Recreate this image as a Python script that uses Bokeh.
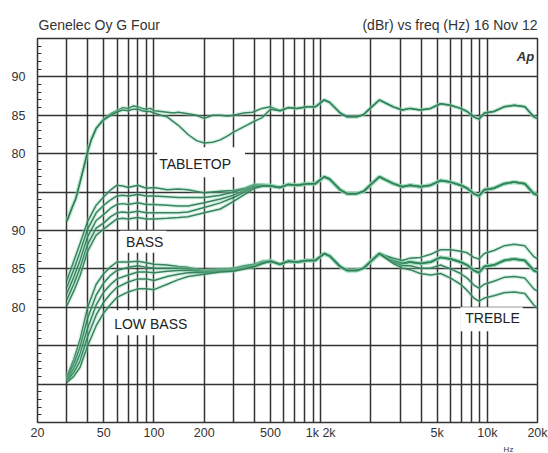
from bokeh.plotting import figure
from bokeh.layouts import column
from bokeh.models import Range1d, FixedTicker, Label
from bokeh.core.properties import value
from bokeh.embed import file_html
from bokeh.resources import INLINE

# ---------------- axes / grid ----------------
x_grid_hz = [30, 40, 50, 60, 70, 80, 90, 100, 200, 300, 400, 500, 600, 700, 800, 900,
             1000, 2000, 3000, 4000, 5000, 6000, 7000, 8000, 9000, 10000]
y_grid_db = [50, 55, 60, 65, 70, 75, 80, 85, 90]
x_tick_hz = [20, 50, 100, 200, 500, 1000, 5000, 10000, 20000]
x_tick_labels = ["20", "50", "100", "200", "500", "1k 2k", "5k", "10k", "20k"]
y_tick_db = [60, 65, 70, 80, 85, 90]
y_tick_labels = ["80", "85", "90", "80", "85", "90"]
y_minor_db = list(range(46, 95))

header_left = "Genelec Oy G Four"
header_right = "(dBr) vs freq (Hz) 16 Nov 12"
footer_text = "Hz"

# display offsets of the three stacked groups (dB)
group_offset_db = [0, -10, -20]

# ---------------- shared response above 500 Hz (top group) ----------------
hf_freq = [570, 640, 720, 830, 930, 1050, 1130, 1310, 1440, 1650, 1810, 1980, 2250, 2450,
           2730, 3090, 3440, 3960, 4570, 5240, 6020, 6910, 7570, 8300, 8900, 9600, 10950,
           12600, 14500, 16800, 19000, 20000]
hf_db = [85.6, 86.0, 85.9, 86.1, 86.1, 87.0, 86.7, 85.3, 84.8, 84.8, 85.1, 85.9, 87.0, 86.6,
         86.1, 85.7, 85.9, 85.7, 85.9, 86.5, 86.3, 85.9, 85.5, 84.8, 84.5, 85.3, 85.5,
         86.1, 86.3, 86.1, 84.8, 84.6]

# ---------------- TABLETOP group, low frequencies ----------------
top_lf_freq = [30, 32, 34, 36, 38, 40, 42, 45, 48, 50, 55, 60, 65, 70, 75, 80, 85, 90, 95,
               100, 110, 120, 130, 140, 160, 180, 200, 225, 250, 275, 300, 345, 390, 445, 500]
top_flat_lf = [71.2, 72.8, 74.2, 76.3, 78.3, 80.3, 81.8, 83.3, 84.1, 84.5, 85.2, 85.6, 86.0,
               85.9, 86.2, 86.1, 85.9, 85.8, 85.9, 85.6, 85.5, 85.4, 85.3, 85.4, 85.2, 85.0,
               84.6, 85.0, 85.0, 84.9, 85.0, 85.3, 85.4, 85.9, 86.1]
tabletop_lf = [71.2, 72.8, 74.2, 76.3, 78.3, 80.3, 81.8, 83.3, 84.0, 84.4, 85.0, 85.4, 85.7,
               85.6, 85.8, 85.8, 85.6, 85.5, 85.5, 85.3, 85.0, 84.8, 84.2, 83.7, 82.5, 81.7,
               81.4, 81.5, 81.8, 82.3, 82.8, 83.5, 84.1, 84.7, 85.8]

# ---------------- BASS group (display dB) ----------------
bass_freq = [30, 33, 36, 40, 45, 50, 55, 60, 65, 70, 80, 90, 100, 120, 140, 160,
             200, 250, 300, 350, 400, 450, 500]
bass_0 = [63.5, 66.0, 68.3, 71.2, 73.3, 74.4, 75.3, 75.9, 75.8, 75.6, 75.9, 75.5, 75.6, 75.3,
          75.4, 75.3, 74.9, 75.1, 75.2, 75.5, 76.0, 76.0, 75.9]
bass_1 = [62.6, 64.9, 67.2, 70.2, 72.3, 73.3, 74.0, 74.5, 74.6, 74.5, 74.7, 74.5, 74.5, 74.4,
          74.3, 74.3, 74.3, 74.6, 75.0, 75.4, 75.9, 75.9, 75.9]
bass_2 = [61.8, 63.9, 66.1, 69.2, 71.3, 72.1, 72.9, 73.4, 73.5, 73.4, 73.6, 73.4, 73.4, 73.3,
          73.2, 73.2, 73.6, 74.1, 74.6, 75.2, 75.8, 75.9, 75.8]
bass_3 = [61.0, 63.0, 65.1, 68.2, 70.3, 71.0, 71.8, 72.3, 72.4, 72.3, 72.5, 72.3, 72.3, 72.3,
          72.3, 72.4, 73.0, 73.6, 74.3, 75.0, 75.7, 75.8, 75.8]
bass_4 = [60.2, 62.1, 64.1, 67.3, 69.4, 70.2, 70.9, 71.5, 71.6, 71.5, 71.7, 71.5, 71.5, 71.6,
          71.7, 71.8, 72.3, 72.8, 73.8, 74.7, 75.5, 75.8, 75.8]

# ---------------- LOW BASS group (display dB) ----------------
lb_freq = [30, 33, 36, 40, 45, 50, 55, 60, 70, 80, 90, 100, 120, 140, 160,
           200, 250, 300, 350, 400, 450, 500]
low_bass_0 = [51.0, 53.2, 55.8, 60.0, 63.0, 64.4, 65.3, 65.9, 65.9, 66.0, 65.8, 65.6, 65.5,
              65.3, 65.2, 64.8, 65.0, 65.0, 65.3, 65.5, 65.9, 66.1]
low_bass_1 = [50.8, 52.6, 54.8, 58.6, 61.6, 63.2, 64.2, 64.8, 65.2, 65.4, 65.2, 65.1, 65.1,
              65.1, 65.0, 64.7, 64.9, 65.1, 65.4, 65.6, 66.0, 66.1]
low_bass_2 = [50.6, 52.0, 53.9, 57.3, 60.3, 62.0, 63.0, 63.7, 64.2, 64.6, 64.6, 64.5, 64.7,
              64.8, 64.8, 64.6, 64.8, 64.9, 65.2, 65.4, 65.8, 66.0]
low_bass_3 = [50.4, 51.5, 53.0, 56.2, 59.0, 60.7, 61.8, 62.6, 63.3, 63.7, 63.7, 63.5, 64.0,
              64.3, 64.5, 64.5, 64.7, 64.8, 65.1, 65.3, 65.8, 66.0]
low_bass_4 = [50.2, 51.0, 52.2, 55.0, 57.6, 59.3, 60.4, 61.3, 62.0, 62.4, 62.4, 62.3, 63.0,
              63.6, 64.0, 64.3, 64.6, 64.7, 65.0, 65.3, 65.7, 66.0]

# ---------------- TREBLE curves (display dB) ----------------
treble_freq = [1980, 2250, 2450, 2730, 3090, 3440, 3960, 4570, 5240, 6020, 6910, 7570, 8300,
               8900, 9600, 10950, 12600, 14500, 16800, 19000, 20000]
treble_up2 = [65.9, 67.0, 66.7, 66.4, 66.1, 66.4, 66.5, 66.9, 67.5, 67.5, 67.3, 67.1, 66.5,
              66.3, 67.0, 67.4, 68.0, 68.2, 68.0, 66.6, 66.3]
treble_dn2 = [65.9, 67.0, 66.5, 65.9, 65.4, 65.4, 65.1, 65.1, 65.5, 65.0, 64.4, 63.8, 62.9,
              62.5, 63.0, 63.4, 63.9, 64.0, 63.8, 62.4, 62.1]
treble_dn4 = [65.9, 67.0, 66.4, 65.7, 65.1, 64.9, 64.4, 64.2, 64.4, 63.8, 63.0, 62.2, 61.2,
              60.8, 61.2, 61.5, 61.9, 62.0, 61.8, 60.3, 59.9]

FONT = "Liberation Sans"
TEXT = "#333333"
W = 548
LEFT, RIGHT = 37, 11


def strip(h):
    # same side borders as the main plot, x range in page pixels of that frame
    f = figure(width=W, height=h, x_range=Range1d(LEFT, W - RIGHT), y_range=Range1d(0, h),
               x_axis_location=None, y_axis_location=None,
               output_backend="svg", toolbar_location=None,
               min_border_left=LEFT, min_border_right=RIGHT, min_border_top=0,
               min_border_bottom=0)
    f.grid.visible = False
    f.outline_line_color = None
    f.background_fill_color = None
    return f


# ---------------- header strip ----------------
head = strip(36)
head.text(x=[38], y=[12], text=[header_left], text_font=value(FONT),
          text_font_size=value("14px"), text_color=TEXT, text_align="left",
          text_baseline="alphabetic")
head.text(x=[537], y=[12], text=[header_right], text_font=value(FONT),
          text_font_size=value("14px"), text_color=TEXT, text_align="right",
          text_baseline="alphabetic")

# ---------------- main plot ----------------
p = figure(width=W, height=406, x_axis_type="log",
           x_range=Range1d(20, 20000), y_range=Range1d(45, 95),
           output_backend="svg", toolbar_location=None,
           min_border_left=LEFT, min_border_right=RIGHT, min_border_top=2,
           min_border_bottom=17)
p.background_fill_color = "white"
p.border_fill_color = "white"
p.outline_line_color = "#333333"
p.outline_line_width = 1.5

GRID = "#333333"
p.xgrid.ticker = FixedTicker(ticks=x_grid_hz)
p.ygrid.ticker = FixedTicker(ticks=y_grid_db)
for g in (p.xgrid, p.ygrid):
    g.grid_line_color = GRID
    g.grid_line_width = 1.5
    g.minor_grid_line_color = None

p.xaxis.ticker = FixedTicker(ticks=x_tick_hz)
p.xaxis.major_label_overrides = {t: l for t, l in zip(x_tick_hz, x_tick_labels)}
p.yaxis.ticker = FixedTicker(ticks=y_tick_db, minor_ticks=y_minor_db)
p.yaxis.major_label_overrides = {t: l for t, l in zip(y_tick_db, y_tick_labels)}
for ax in (p.xaxis, p.yaxis):
    ax.axis_line_color = None
    ax.major_tick_in = 0
    ax.major_tick_out = 0
    ax.major_label_text_font = FONT
    ax.major_label_text_font_size = "12.5px"
    ax.major_label_text_color = TEXT
p.xaxis.minor_tick_line_color = None
p.xaxis.major_label_standoff = 3
p.yaxis.major_label_standoff = 12
p.yaxis.minor_tick_in = 4
p.yaxis.minor_tick_out = 0
p.yaxis.minor_tick_line_color = "#333333"
p.yaxis.minor_tick_line_width = 1

HALO = "#8fd8b1"
CORE = "#2f7d56"


def draw(xs, ys):
    p.line(xs, ys, line_color=HALO, line_width=4.0, line_alpha=0.35)
    p.line(xs, ys, line_color=CORE, line_width=1.5, line_alpha=0.95)


# TABLETOP group
o = group_offset_db[0]
draw(top_lf_freq + hf_freq, top_flat_lf + [v + o for v in hf_db])
draw(top_lf_freq + hf_freq, tabletop_lf + [v + o for v in hf_db])
# BASS group
o = group_offset_db[1]
for c in (bass_0, bass_1, bass_2, bass_3, bass_4):
    draw(bass_freq + hf_freq, c + [v + o for v in hf_db])
# LOW BASS / TREBLE group
o = group_offset_db[2]
for c in (low_bass_0, low_bass_1, low_bass_2, low_bass_3, low_bass_4):
    draw(lb_freq + hf_freq, c + [v + o for v in hf_db])
for c in (treble_up2, treble_dn2, treble_dn4):
    draw(treble_freq, c)


def boxed(text, x, y, pad):
    p.add_layout(Label(x=x, y=y, text=text, text_font=FONT, text_font_size="14px",
                       text_color="#222222", text_align="left", text_baseline="middle",
                       background_fill_color="white", background_fill_alpha=1.0,
                       padding=pad))


boxed("TABLETOP", 104.5, 78.9, dict(left=2, right=14, top=9, bottom=5))
boxed("BASS", 62.6, 68.55, dict(left=6, right=3, top=3, bottom=3))
boxed("LOW BASS", 54.6, 58.0, dict(left=4, right=4, top=6, bottom=3))
boxed("TREBLE", 6880, 58.45, dict(left=5, right=3, top=3, bottom=5))

p.add_layout(Label(x=19100, y=92.7, text="Ap", text_font=FONT, text_font_size="13px",
                   text_font_style="bold italic", text_color=TEXT, text_align="right",
                   text_baseline="alphabetic"))

# ---------------- footer strip ----------------
foot = strip(11)
foot.text(x=[508], y=[5.5], text=[footer_text], text_font=value(FONT),
          text_font_size=value("8px"), text_color=TEXT, text_align="center",
          text_baseline="middle")

layout = column(head, p, foot, spacing=0)
open("out.html", "w").write(file_html(layout, INLINE))
